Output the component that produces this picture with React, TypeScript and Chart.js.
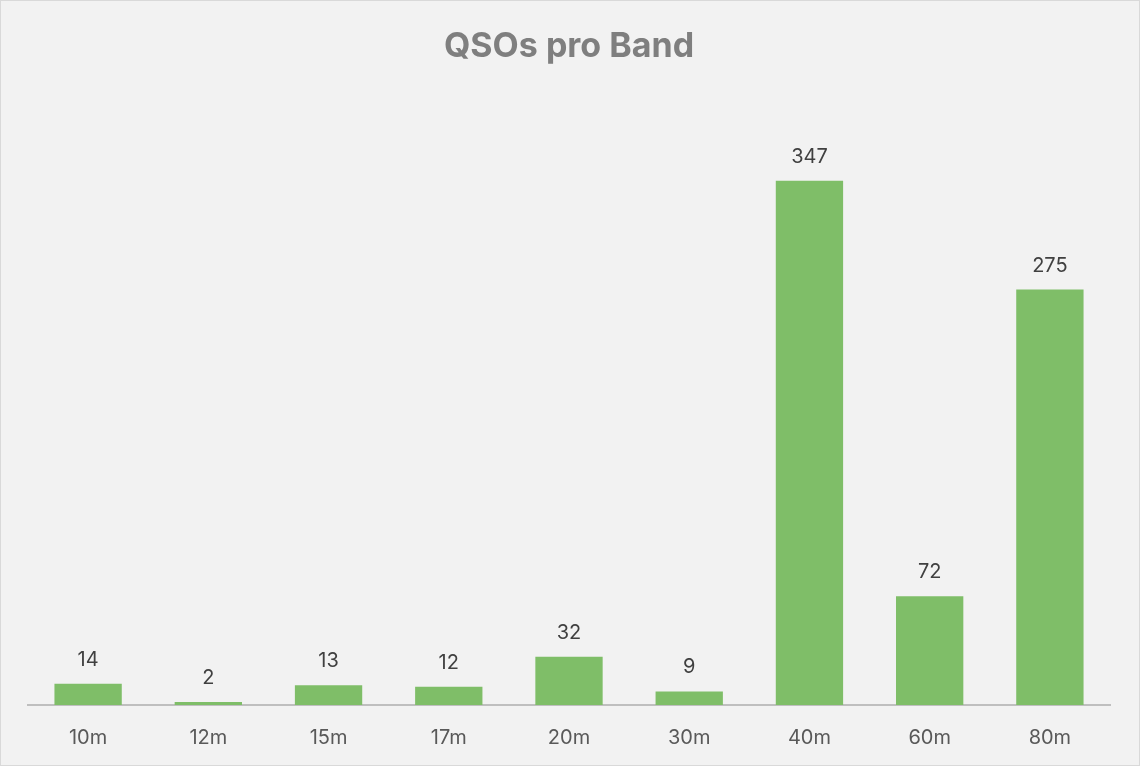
import React, { useEffect, useRef } from 'react';
import { Chart, registerables, Plugin } from 'chart.js';

Chart.register(...registerables);

const bands = ['10m', '12m', '15m', '17m', '20m', '30m', '40m', '60m', '80m'];
const qsos = [14, 2, 13, 12, 32, 9, 347, 72, 275];

const FONT = 'Inter, "Noto Sans", "Liberation Sans", sans-serif';

const valueLabels: Plugin<'bar'> = {
  id: 'valueLabels',
  afterDatasetsDraw(chart) {
    const ctx = chart.ctx;
    const meta = chart.getDatasetMeta(0);
    ctx.save();
    ctx.fillStyle = '#404040';
    ctx.font = `20px ${FONT}`;
    ctx.textAlign = 'center';
    ctx.textBaseline = 'middle';
    meta.data.forEach((bar, i) => {
      ctx.fillText(String(qsos[i]), bar.x, bar.y - 24);
    });
    ctx.restore();
  },
};

export default function App() {
  const canvasRef = useRef<HTMLCanvasElement>(null);

  useEffect(() => {
    document.body.style.margin = '0';
    if (!canvasRef.current) return;
    const chart = new Chart(canvasRef.current, {
      type: 'bar',
      data: {
        labels: bands,
        datasets: [{
          data: qsos,
          backgroundColor: '#7fbe68',
          barPercentage: 0.56,
          categoryPercentage: 1,
        }],
      },
      options: {
        responsive: false,
        animation: false,
        layout: { padding: { left: 27, right: 29, bottom: 0 } },
        plugins: {
          legend: { display: false },
          tooltip: { enabled: false },
          title: {
            display: true,
            text: 'QSOs pro Band',
            color: '#7f7f7f',
            font: { family: FONT, size: 34, weight: 'bold' },
            padding: { top: 25, bottom: 34 },
          },
        },
        scales: {
          x: {
            grid: { display: false, drawTicks: false },
            border: { color: '#bfbfbf', width: 2 },
            ticks: { color: '#595959', font: { family: FONT, size: 20 }, padding: 21 },
            afterFit: (scale) => { scale.height = 60; },
          },
          y: { display: false, min: 0, max: 400 },
        },
      },
      plugins: [valueLabels],
    });
    return () => chart.destroy();
  }, []);

  return (
    <div style={{ width: 1140, height: 766, boxSizing: 'border-box', border: '1px solid #d9d9d9', background: '#f2f2f2' }}>
      <canvas ref={canvasRef} width={1138} height={764} />
    </div>
  );
}
